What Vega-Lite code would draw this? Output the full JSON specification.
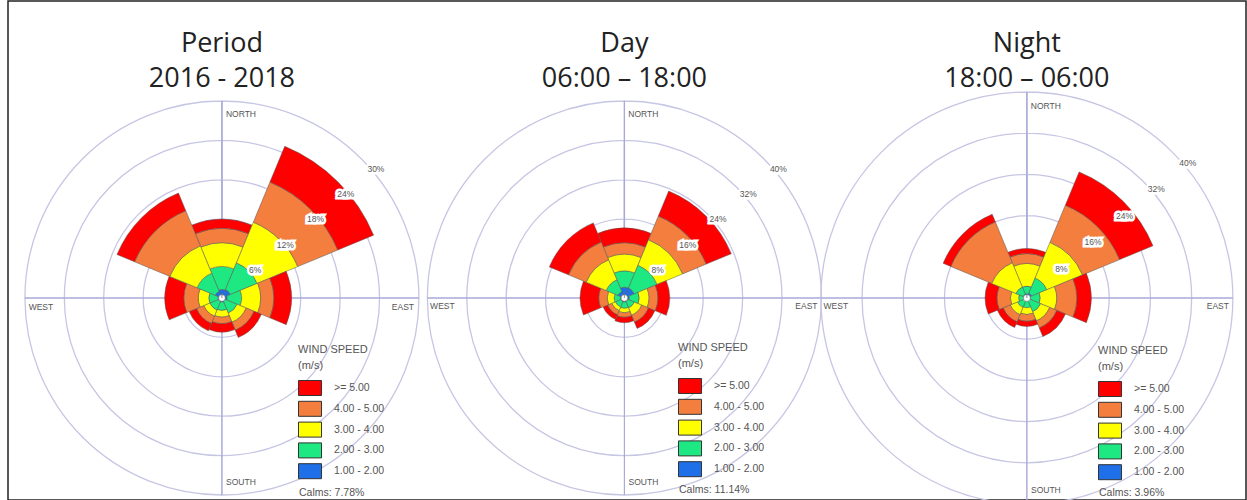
{
  "$schema": "https://vega.github.io/schema/vega-lite/v6.json",
  "width": 1238,
  "height": 499,
  "autosize": {"type": "none"},
  "padding": {"left": 8, "top": 1, "right": 1, "bottom": 0},
  "datasets": {
    "rose": [
      {"p":"Period","dir":0,"speed":"1.00 - 2.00","f":1.3},{"p":"Period","dir":0,"speed":"2.00 - 3.00","f":3.5},{"p":"Period","dir":0,"speed":"3.00 - 4.00","f":3.6},{"p":"Period","dir":0,"speed":"4.00 - 5.00","f":2.2},{"p":"Period","dir":0,"speed":">= 5.00","f":1.4},
      {"p":"Period","dir":45,"speed":"1.00 - 2.00","f":1.4},{"p":"Period","dir":45,"speed":"2.00 - 3.00","f":4.4},{"p":"Period","dir":45,"speed":"3.00 - 4.00","f":6.7},{"p":"Period","dir":45,"speed":"4.00 - 5.00","f":6.6},{"p":"Period","dir":45,"speed":">= 5.00","f":5.9},
      {"p":"Period","dir":90,"speed":"1.00 - 2.00","f":0.8},{"p":"Period","dir":90,"speed":"2.00 - 3.00","f":2.2},{"p":"Period","dir":90,"speed":"3.00 - 4.00","f":2.9},{"p":"Period","dir":90,"speed":"4.00 - 5.00","f":2.0},{"p":"Period","dir":90,"speed":">= 5.00","f":2.7},
      {"p":"Period","dir":135,"speed":"1.00 - 2.00","f":0.6},{"p":"Period","dir":135,"speed":"2.00 - 3.00","f":1.9},{"p":"Period","dir":135,"speed":"3.00 - 4.00","f":1.5},{"p":"Period","dir":135,"speed":"4.00 - 5.00","f":1.3},{"p":"Period","dir":135,"speed":">= 5.00","f":1.2},
      {"p":"Period","dir":180,"speed":"1.00 - 2.00","f":0.6},{"p":"Period","dir":180,"speed":"2.00 - 3.00","f":1.3},{"p":"Period","dir":180,"speed":"3.00 - 4.00","f":1.0},{"p":"Period","dir":180,"speed":"4.00 - 5.00","f":1.0},{"p":"Period","dir":180,"speed":">= 5.00","f":1.3},
      {"p":"Period","dir":225,"speed":"1.00 - 2.00","f":0.6},{"p":"Period","dir":225,"speed":"2.00 - 3.00","f":1.4},{"p":"Period","dir":225,"speed":"3.00 - 4.00","f":1.0},{"p":"Period","dir":225,"speed":"4.00 - 5.00","f":1.2},{"p":"Period","dir":225,"speed":">= 5.00","f":1.2},
      {"p":"Period","dir":270,"speed":"1.00 - 2.00","f":0.6},{"p":"Period","dir":270,"speed":"2.00 - 3.00","f":1.4},{"p":"Period","dir":270,"speed":"3.00 - 4.00","f":1.6},{"p":"Period","dir":270,"speed":"4.00 - 5.00","f":2.2},{"p":"Period","dir":270,"speed":">= 5.00","f":2.9},
      {"p":"Period","dir":315,"speed":"1.00 - 2.00","f":1.1},{"p":"Period","dir":315,"speed":"2.00 - 3.00","f":3.0},{"p":"Period","dir":315,"speed":"3.00 - 4.00","f":4.5},{"p":"Period","dir":315,"speed":"4.00 - 5.00","f":5.8},{"p":"Period","dir":315,"speed":">= 5.00","f":2.9},
      {"p":"Day","dir":0,"speed":"1.00 - 2.00","f":2.2},{"p":"Day","dir":0,"speed":"2.00 - 3.00","f":3.3},{"p":"Day","dir":0,"speed":"3.00 - 4.00","f":3.4},{"p":"Day","dir":0,"speed":"4.00 - 5.00","f":2.3},{"p":"Day","dir":0,"speed":">= 5.00","f":3.0},
      {"p":"Day","dir":45,"speed":"1.00 - 2.00","f":2.2},{"p":"Day","dir":45,"speed":"2.00 - 3.00","f":5.0},{"p":"Day","dir":45,"speed":"3.00 - 4.00","f":5.6},{"p":"Day","dir":45,"speed":"4.00 - 5.00","f":5.2},{"p":"Day","dir":45,"speed":">= 5.00","f":5.5},
      {"p":"Day","dir":90,"speed":"1.00 - 2.00","f":1.0},{"p":"Day","dir":90,"speed":"2.00 - 3.00","f":2.0},{"p":"Day","dir":90,"speed":"3.00 - 4.00","f":2.0},{"p":"Day","dir":90,"speed":"4.00 - 5.00","f":1.8},{"p":"Day","dir":90,"speed":">= 5.00","f":2.4},
      {"p":"Day","dir":135,"speed":"1.00 - 2.00","f":0.8},{"p":"Day","dir":135,"speed":"2.00 - 3.00","f":1.4},{"p":"Day","dir":135,"speed":"3.00 - 4.00","f":1.6},{"p":"Day","dir":135,"speed":"4.00 - 5.00","f":1.5},{"p":"Day","dir":135,"speed":">= 5.00","f":1.4},
      {"p":"Day","dir":180,"speed":"1.00 - 2.00","f":0.8},{"p":"Day","dir":180,"speed":"2.00 - 3.00","f":1.3},{"p":"Day","dir":180,"speed":"3.00 - 4.00","f":0.9},{"p":"Day","dir":180,"speed":"4.00 - 5.00","f":0.9},{"p":"Day","dir":180,"speed":">= 5.00","f":1.1},
      {"p":"Day","dir":225,"speed":"1.00 - 2.00","f":0.8},{"p":"Day","dir":225,"speed":"2.00 - 3.00","f":1.2},{"p":"Day","dir":225,"speed":"3.00 - 4.00","f":0.8},{"p":"Day","dir":225,"speed":"4.00 - 5.00","f":0.9},{"p":"Day","dir":225,"speed":">= 5.00","f":1.0},
      {"p":"Day","dir":270,"speed":"1.00 - 2.00","f":0.8},{"p":"Day","dir":270,"speed":"2.00 - 3.00","f":1.3},{"p":"Day","dir":270,"speed":"3.00 - 4.00","f":1.4},{"p":"Day","dir":270,"speed":"4.00 - 5.00","f":1.7},{"p":"Day","dir":270,"speed":">= 5.00","f":3.8},
      {"p":"Day","dir":315,"speed":"1.00 - 2.00","f":1.4},{"p":"Day","dir":315,"speed":"2.00 - 3.00","f":2.6},{"p":"Day","dir":315,"speed":"3.00 - 4.00","f":4.4},{"p":"Day","dir":315,"speed":"4.00 - 5.00","f":3.9},{"p":"Day","dir":315,"speed":">= 5.00","f":4.2},
      {"p":"Night","dir":0,"speed":"1.00 - 2.00","f":0.8},{"p":"Night","dir":0,"speed":"2.00 - 3.00","f":1.5},{"p":"Night","dir":0,"speed":"3.00 - 4.00","f":4.4},{"p":"Night","dir":0,"speed":"4.00 - 5.00","f":1.9},{"p":"Night","dir":0,"speed":">= 5.00","f":1.0},
      {"p":"Night","dir":45,"speed":"1.00 - 2.00","f":1.0},{"p":"Night","dir":45,"speed":"2.00 - 3.00","f":3.2},{"p":"Night","dir":45,"speed":"3.00 - 4.00","f":7.5},{"p":"Night","dir":45,"speed":"4.00 - 5.00","f":7.8},{"p":"Night","dir":45,"speed":">= 5.00","f":7.0},
      {"p":"Night","dir":90,"speed":"1.00 - 2.00","f":0.7},{"p":"Night","dir":90,"speed":"2.00 - 3.00","f":1.9},{"p":"Night","dir":90,"speed":"3.00 - 4.00","f":3.2},{"p":"Night","dir":90,"speed":"4.00 - 5.00","f":3.9},{"p":"Night","dir":90,"speed":">= 5.00","f":2.8},
      {"p":"Night","dir":135,"speed":"1.00 - 2.00","f":0.6},{"p":"Night","dir":135,"speed":"2.00 - 3.00","f":2.3},{"p":"Night","dir":135,"speed":"3.00 - 4.00","f":1.9},{"p":"Night","dir":135,"speed":"4.00 - 5.00","f":1.5},{"p":"Night","dir":135,"speed":">= 5.00","f":1.8},
      {"p":"Night","dir":180,"speed":"1.00 - 2.00","f":0.6},{"p":"Night","dir":180,"speed":"2.00 - 3.00","f":1.3},{"p":"Night","dir":180,"speed":"3.00 - 4.00","f":1.3},{"p":"Night","dir":180,"speed":"4.00 - 5.00","f":1.3},{"p":"Night","dir":180,"speed":">= 5.00","f":1.0},
      {"p":"Night","dir":225,"speed":"1.00 - 2.00","f":0.6},{"p":"Night","dir":225,"speed":"2.00 - 3.00","f":1.4},{"p":"Night","dir":225,"speed":"3.00 - 4.00","f":1.5},{"p":"Night","dir":225,"speed":"4.00 - 5.00","f":1.5},{"p":"Night","dir":225,"speed":">= 5.00","f":1.2},
      {"p":"Night","dir":270,"speed":"1.00 - 2.00","f":0.6},{"p":"Night","dir":270,"speed":"2.00 - 3.00","f":1.0},{"p":"Night","dir":270,"speed":"3.00 - 4.00","f":1.6},{"p":"Night","dir":270,"speed":"4.00 - 5.00","f":2.6},{"p":"Night","dir":270,"speed":">= 5.00","f":2.3},
      {"p":"Night","dir":315,"speed":"1.00 - 2.00","f":0.8},{"p":"Night","dir":315,"speed":"2.00 - 3.00","f":1.5},{"p":"Night","dir":315,"speed":"3.00 - 4.00","f":5.1},{"p":"Night","dir":315,"speed":"4.00 - 5.00","f":8.6},{"p":"Night","dir":315,"speed":">= 5.00","f":1.6}
    ],
    "rings": [
      {"p":"Period","v":6,"t":"6%"},{"p":"Period","v":12,"t":"12%"},{"p":"Period","v":18,"t":"18%"},{"p":"Period","v":24,"t":"24%"},{"p":"Period","v":30,"t":"30%"},
      {"p":"Day","v":8,"t":"8%"},{"p":"Day","v":16,"t":"16%"},{"p":"Day","v":24,"t":"24%"},{"p":"Day","v":32,"t":"32%"},{"p":"Day","v":40,"t":"40%"},
      {"p":"Night","v":8,"t":"8%"},{"p":"Night","v":16,"t":"16%"},{"p":"Night","v":24,"t":"24%"},{"p":"Night","v":32,"t":"32%"},{"p":"Night","v":40,"t":"40%"}
    ],
    "axes": [
      {"p":"Period","dir":0,"name":"NORTH"},{"p":"Period","dir":90,"name":"EAST"},{"p":"Period","dir":180,"name":"SOUTH"},{"p":"Period","dir":270,"name":"WEST"},
      {"p":"Day","dir":0,"name":"NORTH"},{"p":"Day","dir":90,"name":"EAST"},{"p":"Day","dir":180,"name":"SOUTH"},{"p":"Day","dir":270,"name":"WEST"},
      {"p":"Night","dir":0,"name":"NORTH"},{"p":"Night","dir":90,"name":"EAST"},{"p":"Night","dir":180,"name":"SOUTH"},{"p":"Night","dir":270,"name":"WEST"}
    ],
    "titles": [
      {"p":"Period","title":"Period\n2016 - 2018"},
      {"p":"Day","title":"Day\n06:00 – 18:00"},
      {"p":"Night","title":"Night\n18:00 – 06:00"}
    ]
  },
  "encoding": {
    "x": {"field": "p", "type": "nominal", "scale": {"type": "point", "domain": ["Period", "Day", "Night"], "padding": 0.538, "align": 0.494}, "axis": null}
  },
  "layer": [
    {
      "layer": [
        {"data": {"name": "rings"}, "transform": [{"filter": "datum.p == 'Period'"}],
         "mark": {"type": "arc", "filled": false, "stroke": "#c6c6e4", "strokeWidth": 1.3, "yOffset": 47.5},
         "encoding": {"theta": {"datum": 0, "type": "quantitative", "scale": {"domain": [0, 360], "range": [0, 6.283185]}}, "theta2": {"datum": 360},
                      "radius": {"field": "v", "type": "quantitative", "stack": null, "scale": {"type": "linear", "domain": [0, 30], "range": [0, 197], "zero": true}}}},
        {"data": {"name": "axes"}, "transform": [{"filter": "datum.p == 'Period'"}],
         "mark": {"type": "arc", "filled": false, "stroke": "#a9a9d8", "strokeWidth": 1, "yOffset": 47.5},
         "encoding": {"theta": {"field": "dir", "type": "quantitative"}, "theta2": {"field": "dir"}, "radius": {"datum": 30}, "radius2": {"datum": 0}}},
        {"data": {"name": "rose"},
         "transform": [{"filter": "datum.p == 'Period'"}, {"stack": "f", "groupby": ["dir"], "sort": [{"field": "speed", "order": "ascending"}], "as": ["r0", "r1"]}, {"calculate": "datum.dir - 22.5", "as": "t0"}, {"calculate": "datum.dir + 22.5", "as": "t1"}],
         "mark": {"type": "arc", "stroke": "#555555", "strokeWidth": 0.5, "yOffset": 47.5},
         "encoding": {"theta": {"field": "t0", "type": "quantitative"}, "theta2": {"field": "t1"}, "radius": {"field": "r1", "type": "quantitative", "stack": null}, "radius2": {"field": "r0"},
                      "color": {"field": "speed", "type": "nominal", "scale": {"domain": [">= 5.00", "4.00 - 5.00", "3.00 - 4.00", "2.00 - 3.00", "1.00 - 2.00", "Calms: 7.78%"], "range": ["#ff0000", "#f47e3e", "#ffff00", "#1ee882", "#1e6fe8", "#ffffff"]},
                                "legend": {"title": ["WIND SPEED", "(m/s)"], "legendX": 290, "legendY": 343,
                                           "encode": {"symbols": {"update": {"opacity": {"signal": "indexof(datum.value, 'Calms') == 0 ? 0 : 1"}}}, "labels": {"update": {"dx": {"signal": "indexof(datum.value, 'Calms') == 0 ? -35 : 0"}, "dy": {"signal": "indexof(datum.value, 'Calms') == 0 ? 3 : 0"}}}}}}}},
        {"data": {"values": [{"p": "Period"}]}, "mark": {"type": "arc", "fill": "#ffffff", "stroke": "#777777", "strokeWidth": 0.5, "yOffset": 47.5},
         "encoding": {"theta": {"datum": 0, "type": "quantitative"}, "theta2": {"datum": 360}, "radius": {"datum": 0.5, "stack": null}}},
        {"data": {"name": "axes"}, "transform": [{"filter": "datum.p == 'Period' && (datum.dir == 0 || datum.dir == 180)"}],
         "mark": {"type": "text", "font": "Liberation Sans", "fontSize": 8.5, "color": "#555555", "radiusOffset": -13, "dx": 19, "baseline": "middle", "yOffset": 47.5},
         "encoding": {"theta": {"field": "dir", "type": "quantitative"}, "radius": {"datum": 30}, "text": {"field": "name"}}},
        {"data": {"name": "axes"}, "transform": [{"filter": "datum.p == 'Period' && (datum.dir == 90 || datum.dir == 270)"}],
         "mark": {"type": "text", "font": "Liberation Sans", "fontSize": 8.5, "color": "#555555", "radiusOffset": -16, "dy": 9, "baseline": "middle", "yOffset": 47.5},
         "encoding": {"theta": {"field": "dir", "type": "quantitative"}, "radius": {"datum": 30}, "text": {"field": "name"}}},
        {"data": {"name": "rings"}, "transform": [{"filter": "datum.p == 'Period'"}],
         "mark": {"type": "text", "font": "Liberation Sans", "fontSize": 8.5, "stroke": "#ffffff", "strokeWidth": 5, "strokeJoin": "miter", "color": "#ffffff", "radiusOffset": 4, "baseline": "middle", "yOffset": 47.5},
         "encoding": {"theta": {"datum": 50, "type": "quantitative"}, "radius": {"field": "v", "type": "quantitative", "stack": null}, "text": {"field": "t"}}},
        {"data": {"name": "rings"}, "transform": [{"filter": "datum.p == 'Period'"}],
         "mark": {"type": "text", "font": "Liberation Sans", "fontSize": 8.5, "color": "#555555", "radiusOffset": 4, "baseline": "middle", "yOffset": 47.5},
         "encoding": {"theta": {"datum": 50, "type": "quantitative"}, "radius": {"field": "v", "type": "quantitative", "stack": null}, "text": {"field": "t"}}}
      ]
    },
    {
      "layer": [
        {"data": {"name": "rings"}, "transform": [{"filter": "datum.p == 'Day'"}],
         "mark": {"type": "arc", "filled": false, "stroke": "#c6c6e4", "strokeWidth": 1.3, "yOffset": 47.5},
         "encoding": {"theta": {"datum": 0, "type": "quantitative"}, "theta2": {"datum": 360},
                      "radius": {"field": "v", "type": "quantitative", "stack": null, "scale": {"type": "linear", "domain": [0, 40], "range": [0, 197], "zero": true}}}},
        {"data": {"name": "axes"}, "transform": [{"filter": "datum.p == 'Day'"}],
         "mark": {"type": "arc", "filled": false, "stroke": "#a9a9d8", "strokeWidth": 1, "yOffset": 47.5},
         "encoding": {"theta": {"field": "dir", "type": "quantitative"}, "theta2": {"field": "dir"}, "radius": {"datum": 40}, "radius2": {"datum": 0}}},
        {"data": {"name": "rose"},
         "transform": [{"filter": "datum.p == 'Day'"}, {"stack": "f", "groupby": ["dir"], "sort": [{"field": "speed", "order": "ascending"}], "as": ["r0", "r1"]}, {"calculate": "datum.dir - 22.5", "as": "t0"}, {"calculate": "datum.dir + 22.5", "as": "t1"}],
         "mark": {"type": "arc", "stroke": "#555555", "strokeWidth": 0.5, "yOffset": 47.5},
         "encoding": {"theta": {"field": "t0", "type": "quantitative"}, "theta2": {"field": "t1"}, "radius": {"field": "r1", "type": "quantitative", "stack": null}, "radius2": {"field": "r0"},
                      "color": {"field": "speed", "type": "nominal", "scale": {"domain": [">= 5.00", "4.00 - 5.00", "3.00 - 4.00", "2.00 - 3.00", "1.00 - 2.00", "Calms: 11.14%"], "range": ["#ff0000", "#f47e3e", "#ffff00", "#1ee882", "#1e6fe8", "#ffffff"]},
                                "legend": {"title": ["WIND SPEED", "(m/s)"], "legendX": 670, "legendY": 341,
                                           "encode": {"symbols": {"update": {"opacity": {"signal": "indexof(datum.value, 'Calms') == 0 ? 0 : 1"}}}, "labels": {"update": {"dx": {"signal": "indexof(datum.value, 'Calms') == 0 ? -35 : 0"}, "dy": {"signal": "indexof(datum.value, 'Calms') == 0 ? 2 : 0"}}}}}}}},
        {"data": {"values": [{"p": "Day"}]}, "mark": {"type": "arc", "fill": "#ffffff", "stroke": "#777777", "strokeWidth": 0.5, "yOffset": 47.5},
         "encoding": {"theta": {"datum": 0, "type": "quantitative"}, "theta2": {"datum": 360}, "radius": {"datum": 0.65, "stack": null}}},
        {"data": {"name": "axes"}, "transform": [{"filter": "datum.p == 'Day' && (datum.dir == 0 || datum.dir == 180)"}],
         "mark": {"type": "text", "font": "Liberation Sans", "fontSize": 8.5, "color": "#555555", "radiusOffset": -13, "dx": 19, "baseline": "middle", "yOffset": 47.5},
         "encoding": {"theta": {"field": "dir", "type": "quantitative"}, "radius": {"datum": 40}, "text": {"field": "name"}}},
        {"data": {"name": "axes"}, "transform": [{"filter": "datum.p == 'Day' && (datum.dir == 90 || datum.dir == 270)"}],
         "mark": {"type": "text", "font": "Liberation Sans", "fontSize": 8.5, "color": "#555555", "radiusOffset": -15, "dy": 8, "baseline": "middle", "yOffset": 47.5},
         "encoding": {"theta": {"field": "dir", "type": "quantitative"}, "radius": {"datum": 40}, "text": {"field": "name"}}},
        {"data": {"name": "rings"}, "transform": [{"filter": "datum.p == 'Day'"}],
         "mark": {"type": "text", "font": "Liberation Sans", "fontSize": 8.5, "stroke": "#ffffff", "strokeWidth": 5, "strokeJoin": "miter", "color": "#ffffff", "radiusOffset": 4, "baseline": "middle", "yOffset": 47.5},
         "encoding": {"theta": {"datum": 50, "type": "quantitative"}, "radius": {"field": "v", "type": "quantitative", "stack": null}, "text": {"field": "t"}}},
        {"data": {"name": "rings"}, "transform": [{"filter": "datum.p == 'Day'"}],
         "mark": {"type": "text", "font": "Liberation Sans", "fontSize": 8.5, "color": "#555555", "radiusOffset": 4, "baseline": "middle", "yOffset": 47.5},
         "encoding": {"theta": {"datum": 50, "type": "quantitative"}, "radius": {"field": "v", "type": "quantitative", "stack": null}, "text": {"field": "t"}}}
      ]
    },
    {
      "layer": [
        {"data": {"name": "rings"}, "transform": [{"filter": "datum.p == 'Night'"}],
         "mark": {"type": "arc", "filled": false, "stroke": "#c6c6e4", "strokeWidth": 1.3, "yOffset": 47.5},
         "encoding": {"theta": {"datum": 0, "type": "quantitative"}, "theta2": {"datum": 360},
                      "radius": {"field": "v", "type": "quantitative", "stack": null, "scale": {"type": "linear", "domain": [0, 40], "range": [0, 206], "zero": true}}}},
        {"data": {"name": "axes"}, "transform": [{"filter": "datum.p == 'Night'"}],
         "mark": {"type": "arc", "filled": false, "stroke": "#a9a9d8", "strokeWidth": 1, "yOffset": 47.5},
         "encoding": {"theta": {"field": "dir", "type": "quantitative"}, "theta2": {"field": "dir"}, "radius": {"datum": 40}, "radius2": {"datum": 0}}},
        {"data": {"name": "rose"},
         "transform": [{"filter": "datum.p == 'Night'"}, {"stack": "f", "groupby": ["dir"], "sort": [{"field": "speed", "order": "ascending"}], "as": ["r0", "r1"]}, {"calculate": "datum.dir - 22.5", "as": "t0"}, {"calculate": "datum.dir + 22.5", "as": "t1"}],
         "mark": {"type": "arc", "stroke": "#555555", "strokeWidth": 0.5, "yOffset": 47.5},
         "encoding": {"theta": {"field": "t0", "type": "quantitative"}, "theta2": {"field": "t1"}, "radius": {"field": "r1", "type": "quantitative", "stack": null}, "radius2": {"field": "r0"},
                      "color": {"field": "speed", "type": "nominal", "scale": {"domain": [">= 5.00", "4.00 - 5.00", "3.00 - 4.00", "2.00 - 3.00", "1.00 - 2.00", "Calms: 3.96%"], "range": ["#ff0000", "#f47e3e", "#ffff00", "#1ee882", "#1e6fe8", "#ffffff"]},
                                "legend": {"title": ["WIND SPEED", "(m/s)"], "legendX": 1090, "legendY": 344,
                                           "encode": {"symbols": {"update": {"opacity": {"signal": "indexof(datum.value, 'Calms') == 0 ? 0 : 1"}}}, "labels": {"update": {"dx": {"signal": "indexof(datum.value, 'Calms') == 0 ? -35 : 0"}, "dy": {"signal": "indexof(datum.value, 'Calms') == 0 ? 2 : 0"}}}}}}}},
        {"data": {"values": [{"p": "Night"}]}, "mark": {"type": "arc", "fill": "#ffffff", "stroke": "#777777", "strokeWidth": 0.5, "yOffset": 47.5},
         "encoding": {"theta": {"datum": 0, "type": "quantitative"}, "theta2": {"datum": 360}, "radius": {"datum": 0.65, "stack": null}}},
        {"data": {"name": "axes"}, "transform": [{"filter": "datum.p == 'Night' && (datum.dir == 0 || datum.dir == 180)"}],
         "mark": {"type": "text", "font": "Liberation Sans", "fontSize": 8.5, "color": "#555555", "radiusOffset": -14, "dx": 19, "baseline": "middle", "yOffset": 47.5},
         "encoding": {"theta": {"field": "dir", "type": "quantitative"}, "radius": {"datum": 40}, "text": {"field": "name"}}},
        {"data": {"name": "axes"}, "transform": [{"filter": "datum.p == 'Night' && (datum.dir == 90 || datum.dir == 270)"}],
         "mark": {"type": "text", "font": "Liberation Sans", "fontSize": 8.5, "color": "#555555", "radiusOffset": -15, "dy": 8, "baseline": "middle", "yOffset": 47.5},
         "encoding": {"theta": {"field": "dir", "type": "quantitative"}, "radius": {"datum": 40}, "text": {"field": "name"}}},
        {"data": {"name": "rings"}, "transform": [{"filter": "datum.p == 'Night'"}],
         "mark": {"type": "text", "font": "Liberation Sans", "fontSize": 8.5, "stroke": "#ffffff", "strokeWidth": 5, "strokeJoin": "miter", "color": "#ffffff", "radiusOffset": 4, "baseline": "middle", "yOffset": 47.5},
         "encoding": {"theta": {"datum": 50, "type": "quantitative"}, "radius": {"field": "v", "type": "quantitative", "stack": null}, "text": {"field": "t"}}},
        {"data": {"name": "rings"}, "transform": [{"filter": "datum.p == 'Night'"}],
         "mark": {"type": "text", "font": "Liberation Sans", "fontSize": 8.5, "color": "#555555", "radiusOffset": 4, "baseline": "middle", "yOffset": 47.5},
         "encoding": {"theta": {"datum": 50, "type": "quantitative"}, "radius": {"field": "v", "type": "quantitative", "stack": null}, "text": {"field": "t"}}}
      ]
    },
    {
      "data": {"name": "titles"},
      "mark": {"type": "text", "font": "Open Sans", "fontSize": 27, "color": "#222222", "lineBreak": "\n", "lineHeight": 35, "baseline": "alphabetic", "dy": -198.5},
      "encoding": {"text": {"field": "title"}}
    }
  ],
  "resolve": {"scale": {"radius": "independent", "color": "independent"}, "legend": {"color": "independent"}},
  "config": {
    "view": {"stroke": "#222222", "strokeWidth": 1.5},
    "legend": {
      "orient": "none",
      "titleFont": "Liberation Sans", "titleFontSize": 11, "titleFontWeight": "normal", "titleColor": "#555555", "titleLineHeight": 16, "titlePadding": 9,
      "labelFont": "Liberation Sans", "labelFontSize": 10.5, "labelColor": "#555555", "labelOffset": 20,
      "symbolType": "M-1,-1L2.07,-1L2.07,1L-1,1Z", "symbolSize": 225, "symbolStrokeColor": "#333333", "symbolStrokeWidth": 1, "symbolOpacity": 1,
      "rowPadding": 0.8, "padding": 0
    }
  }
}
